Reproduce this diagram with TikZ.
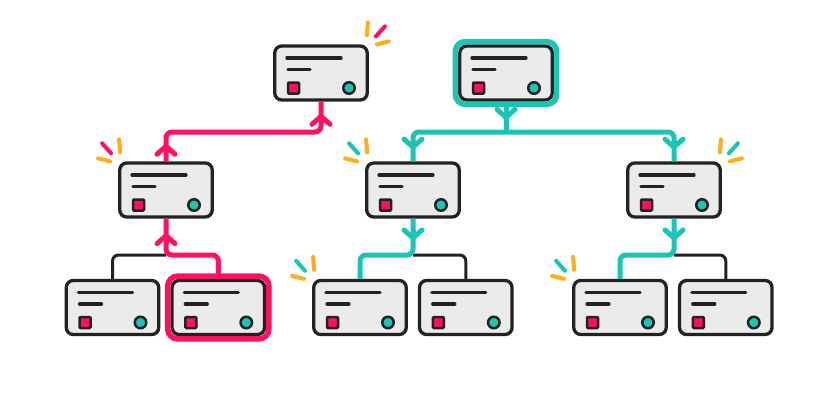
\documentclass[tikz,border=0pt]{standalone}
\usepackage{tikz}
\usetikzlibrary{arrows.meta,positioning,calc}
\definecolor{dark}{HTML}{222222}
\definecolor{boxfill}{HTML}{EBEBEB}
\definecolor{redc}{HTML}{FF1060}
\definecolor{tealc}{HTML}{1BC5B6}
\definecolor{orangec}{HTML}{FFAE1A}
% three little strokes at a corner: anchor, colour, side (1 right, -1 left)
\newcommand{\sparks}[3]{%
  \begin{scope}[shift={(#1)}, xscale=#3]
    \draw[spark, orangec] (-1,-22) -- (-2,-9);
    \draw[spark, #2] (16,-18) -- (7,-8);
    \draw[spark, orangec] (20,-3) -- (8,0);
  \end{scope}}
% chevron on the straight piece from #2 to #3, colour #1
\newcommand{\chev}[3]{%
  \draw[chevron, #1] ($(#2)!0.3!(#3)$) -- ($(#2)!0.6!(#3)$);}

\begin{document}
\begin{tikzpicture}[x=1pt, y=-1pt,
  box/.style={draw=dark, fill=boxfill, line width=3.3pt, rounded corners=7pt,
    minimum width=92.5pt, minimum height=54pt, inner sep=0pt,
    path picture={
      \draw[dark, line width=3.3pt, line cap=round]
        ([shift={(-34,-15)}]path picture bounding box.center) -- ++(54,0)
        ([shift={(-33,-3.5)}]path picture bounding box.center) -- ++(22,0);
      \draw[draw=dark, fill=redc, line width=2.5pt, rounded corners=1pt]
        ([shift={(-33,9.5)}]path picture bounding box.center) rectangle ++(11,11);
      \draw[draw=dark, fill=tealc, line width=2.5pt]
        ([shift={(28,15)}]path picture bounding box.center) circle (5.75pt);
    }},
  wire/.style={line width=5pt, rounded corners=6pt},
  redwire/.style={wire, draw=redc},
  tealwire/.style={wire, draw=tealc},
  blackwire/.style={line width=3pt, rounded corners=6pt, draw=dark},
  chevron/.style={line width=5pt, -{Straight Barb[length=8pt, width=18pt, round]}},
  ring/.style={draw=#1, line width=5.5pt, rounded corners=10pt},
  spark/.style={line width=4pt, line cap=round}
]
\fill[white] (0,0) rectangle (840,420);
\useasboundingbox (0,0) rectangle (840,420);

% servers
\node[box] (A) at (321,73) {};
\node[box] (B) at (506,73) {};
\node[box] (C) at (166,190) {};
\node[box] (D) at (413,190) {};
\node[box] (E) at (674,190) {};
\node[box] (F) at (112.5,307.5) {};
\node[box, right=10pt of F] (G) {};
\node[box] (H) at (360,307.5) {};
\node[box, right=10pt of H] (I) {};
\node[box] (J) at (620,307.5) {};
\node[box, right=10pt of J] (K) {};

\coordinate (topbus) at (0,132);
\coordinate (lowbus) at (0,255);

% plain links
\draw[blackwire] (F.north) |- (C.south |- lowbus);
\draw[blackwire] (D.south |- lowbus) -| (I.north);
\draw[blackwire] (E.south |- lowbus) -| (K.north);

% red route
\draw[redwire] (C.north) |- (A.south |- topbus) -- (A.south);
\draw[redwire] (G.north) |- (C.south |- lowbus) -- (C.south);

% teal route
\draw[tealwire] (B.south) -- (B.south |- topbus);
\draw[tealwire] (D.north) |- (E.north |- topbus) -- (E.north);
\draw[tealwire] (D.south) |- (H.north |- lowbus) -- (H.north);
\draw[tealwire] (E.south) |- (J.north |- lowbus) -- (J.north);

% chevrons
\chev{redc}{C.north}{C.north |- topbus}
\chev{redc}{A.south |- topbus}{A.south}
\chev{redc}{C.south |- lowbus}{C.south}
\chev{tealc}{B.south}{B.south |- topbus}
\chev{tealc}{D.north |- topbus}{D.north}
\chev{tealc}{E.north |- topbus}{E.north}
\chev{tealc}{D.south}{D.south |- lowbus}
\chev{tealc}{E.south}{E.south |- lowbus}

% highlights
\draw[ring=tealc] ([shift={(-2.75pt,2.75pt)}]B.north west) rectangle ([shift={(2.75pt,-2.75pt)}]B.south east);
\draw[ring=redc] ([shift={(-2.75pt,2.75pt)}]G.north west) rectangle ([shift={(2.75pt,-2.75pt)}]G.south east);

% sparkles
\sparks{A.north east}{redc}{1}
\sparks{C.north west}{redc}{-1}
\sparks{D.north west}{tealc}{-1}
\sparks{E.north east}{tealc}{1}
\sparks{H.north west}{tealc}{-1}
\sparks{J.north west}{tealc}{-1}
\end{tikzpicture}
\end{document}
